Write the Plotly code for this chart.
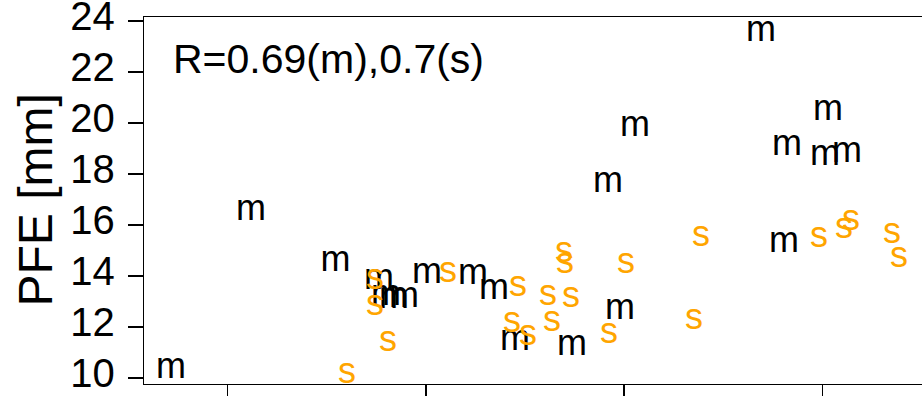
import plotly.graph_objects as go

# Data (x in tick units, y = PFE [mm])
m_x = [0.714, 1.118, 1.544, 1.763, 1.799, 1.839, 1.889, 2.006, 2.238, 2.344, 2.450,
       2.737, 2.919, 2.979, 3.055, 3.691, 3.807, 3.822, 4.014, 4.029, 4.125]
m_y = [10.35, 16.55, 14.55, 13.84, 13.22, 13.10, 13.14, 14.08, 14.04, 13.45, 11.45,
       11.25, 17.65, 12.67, 19.84, 23.57, 15.29, 19.10, 18.71, 20.47, 18.82]

s_x = [1.602, 1.743, 1.743, 1.809, 2.112, 2.434, 2.465, 2.515, 2.616, 2.636, 2.697,
       2.702, 2.732, 2.924, 3.010, 3.353, 3.388, 3.983, 4.109, 4.145, 4.352, 4.387]
s_y = [10.16, 13.84, 12.82, 11.41, 14.12, 12.16, 13.57, 11.65, 13.22, 12.20, 14.90,
       14.47, 13.14, 11.73, 14.47, 12.27, 15.53, 15.49, 15.84, 16.16, 15.65, 14.71]

x_ticks = [1, 2, 3, 4]
y_ticks = [10, 12, 14, 16, 18, 20, 22, 24]
y_title = "PFE [mm]"
r_label = "R=0.69(m),0.7(s)"

FONT = "Liberation Sans, Arial, Helvetica, sans-serif"

fig = go.Figure()
fig.add_trace(go.Scatter(x=m_x, y=m_y, mode="text", text=["m"] * len(m_x),
                         textposition="middle center",
                         textfont=dict(family=FONT, size=36, color="black"),
                         showlegend=False, hoverinfo="skip"))
fig.add_trace(go.Scatter(x=s_x, y=s_y, mode="text", text=["s"] * len(s_x),
                         textposition="middle center",
                         textfont=dict(family=FONT, size=36, color="#FFA500"),
                         showlegend=False, hoverinfo="skip"))

fig.update_layout(
    template="none",
    width=922, height=396,
    margin=dict(l=144, r=0, t=17, b=12, pad=0, autoexpand=False),
    paper_bgcolor="white", plot_bgcolor="white",
    font=dict(family=FONT, color="black"),
    xaxis=dict(range=[0.5777, 4.503], tickvals=x_ticks, showticklabels=False,
               automargin=False,
               showgrid=False, zeroline=False, showline=True, linecolor="black",
               linewidth=1.3, mirror=True, ticks="outside", ticklen=15,
               tickwidth=1.3, tickcolor="black"),
    yaxis=dict(range=[9.765, 24.157], tickvals=y_ticks,
               ticktext=[str(v) for v in y_ticks], automargin=False,
               ticklabeloverflow="allow", ticklabelstandoff=5, ticklabelshift=-5,
               showgrid=False, zeroline=False, showline=True, linecolor="black",
               linewidth=1.3, ticks="outside", ticklen=15, tickwidth=1.3,
               tickcolor="black", tickfont=dict(family=FONT, size=40, color="black")),
    annotations=[
        dict(text=y_title, xref="paper", yref="paper", x=0, y=0.5,
             xanchor="center", yanchor="middle", xshift=-109, textangle=-90,
             showarrow=False, font=dict(family=FONT, size=48, color="black")),
        dict(text=r_label, xref="paper", yref="paper", x=0, y=1,
             xanchor="left", yanchor="middle", xshift=27, yshift=-42,
             showarrow=False, font=dict(family=FONT, size=41, color="black")),
    ],
)

fig.write_html("out.html", config={"displayModeBar": False, "staticPlot": True},
               post_script="document.body.style.margin='0';document.body.style.overflow='hidden';")
